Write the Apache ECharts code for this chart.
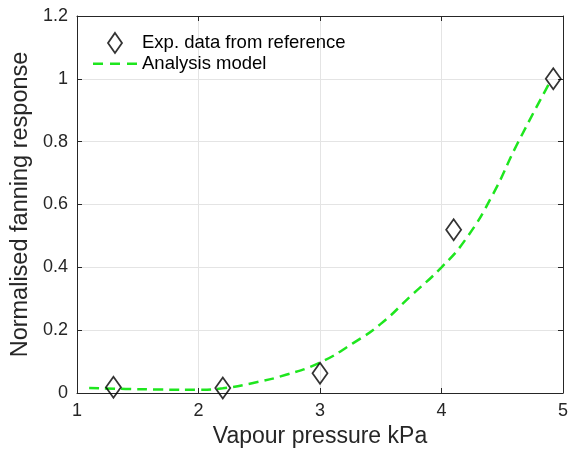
<!DOCTYPE html>
<html>
<head>
<meta charset="utf-8">
<script src="https://cdn.jsdelivr.net/npm/echarts@6/dist/echarts.min.js"></script>
<style>
html,body{margin:0;padding:0;background:#fff;}
#chart{width:571px;height:455px;}
</style>
</head>
<body>
<div id="chart"></div>
<script>
// Experimental data
var expX = [1.3, 2.2, 3.0, 4.1, 4.92];
var expY = [0.018, 0.016, 0.063, 0.52, 1.0];
// Analysis model curve
var modelX = [1.1, 1.4, 1.7, 2.0, 2.2, 2.45, 2.72, 3.0, 3.27, 3.5, 3.75, 4.0, 4.2, 4.42, 4.62, 4.9];
var modelY = [0.016, 0.013, 0.011, 0.010, 0.015, 0.032, 0.058, 0.097, 0.158, 0.22, 0.31, 0.40, 0.49, 0.63, 0.79, 0.995];
// Axes
var xTicks = [1, 2, 3, 4, 5];
var yTicks = [0, 0.2, 0.4, 0.6, 0.8, 1, 1.2];
var seriesNames = ['Exp. data from reference', 'Analysis model'];
var xTitle = 'Vapour pressure kPa';
var yTitle = 'Normalised fanning response';

var FONT = 'Liberation Sans, Arial, sans-serif';
var AX = '#262626';
var GREEN = '#1ee61e';

function pairs(xs, ys){ return xs.map(function(x,i){ return [x, ys[i]]; }); }

var chart = echarts.init(document.getElementById('chart'), null, {renderer:'canvas'});
chart.setOption({
  animation:false,
  backgroundColor:'#fff',
  textStyle:{fontFamily:FONT},
  grid:{left:77, top:16, right:7, bottom:62, containLabel:false},
  legend:{
    orient:'vertical', left:93, top:32, padding:0, itemWidth:44, itemHeight:20, itemGap:0,
    symbolKeepAspect:true,
    textStyle:{fontFamily:FONT, fontSize:18.5, color:'#000'},
    data:[
      {name:seriesNames[0], icon:'path://M7,0 L14,10 L7,20 L0,10 Z', itemStyle:{color:'rgba(0,0,0,0)', borderColor:'#000', borderWidth:1.8}},
      {name:seriesNames[1], icon:'path://M0,8.8 h10 v2.5 h-10 Z M17,8.8 h10 v2.5 h-10 Z M34,8.8 h10 v2.5 h-10 Z M0,0 h0.01 v0.01 h-0.01 Z M43.99,19.99 h0.01 v0.01 h-0.01 Z', itemStyle:{color:GREEN, borderWidth:0}}
    ]
  },
  xAxis:[{
    type:'value', min:xTicks[0], max:xTicks[xTicks.length-1], interval:1,
    name:xTitle, nameLocation:'middle', nameGap:26,
    nameTextStyle:{fontFamily:FONT, fontSize:23, color:AX},
    axisLine:{show:true, onZero:false, lineStyle:{color:AX, width:1}},
    axisTick:{show:true, inside:true, length:5, lineStyle:{color:AX}},
    axisLabel:{fontFamily:FONT, fontSize:18, color:AX, margin:9},
    splitLine:{show:true, lineStyle:{color:'#e4e4e4', width:1}}
  },{
    type:'value', position:'top', min:xTicks[0], max:xTicks[xTicks.length-1], interval:1,
    axisLine:{show:true, onZero:false, lineStyle:{color:AX, width:1}},
    axisTick:{show:true, inside:true, length:5, lineStyle:{color:AX}},
    axisLabel:{show:false}, splitLine:{show:false}
  }],
  yAxis:[{
    type:'value', min:yTicks[0], max:yTicks[yTicks.length-1], interval:0.2,
    name:yTitle, nameLocation:'middle', nameGap:43,
    nameTextStyle:{fontFamily:FONT, fontSize:23.5, color:AX},
    axisLine:{show:true, onZero:false, lineStyle:{color:AX, width:1}},
    axisTick:{show:true, inside:true, length:5, lineStyle:{color:AX}},
    axisLabel:{fontFamily:FONT, fontSize:18, color:AX, margin:9},
    splitLine:{show:true, lineStyle:{color:'#e4e4e4', width:1}}
  },{
    type:'value', position:'right', min:yTicks[0], max:yTicks[yTicks.length-1], interval:0.2,
    axisLine:{show:true, onZero:false, lineStyle:{color:AX, width:1}},
    axisTick:{show:true, inside:true, length:5, lineStyle:{color:AX}},
    axisLabel:{show:false}, splitLine:{show:false}
  }],
  series:[
    {
      name:seriesNames[1], type:'line', smooth:true, symbol:'none',
      data:pairs(modelX, modelY), z:2,
      lineStyle:{color:GREEN, width:2.5, type:[10,6]},
      itemStyle:{color:GREEN}
    },
    {
      name:seriesNames[0], type:'scatter', symbol:'diamond', symbolSize:[15,21],
      data:pairs(expX, expY), z:3,
      itemStyle:{color:'rgba(0,0,0,0)', borderColor:'#000', borderWidth:1.8}
    }
  ]
});
</script>
</body>
</html>
